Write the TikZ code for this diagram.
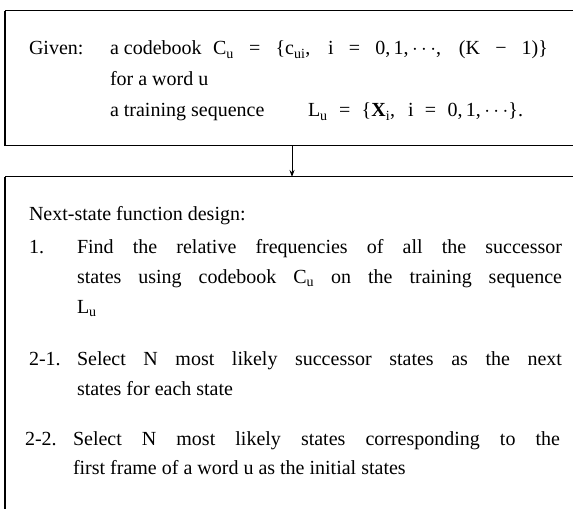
\documentclass[tikz,border=0pt]{standalone}
\usepackage{fontspec}
\setmainfont{Liberation Serif}
\usetikzlibrary{arrows.meta}
\begin{document}
\begin{tikzpicture}[x=1bp,y=-1bp,
  txt/.style={anchor=base west,inner sep=0pt,outer sep=0pt,font=\fontsize{20bp}{24bp}\selectfont},
  frame/.style={line width=1bp},
  leftedge/.style={line width=1.6bp}]
\useasboundingbox (0,0) rectangle (573,509);
% box 1 (open on the right)
\coordinate (b1tl) at (5,11);
\coordinate (b1tr) at (573,11);
\coordinate (b1bl) at (5,146);
\coordinate (b1br) at (573,146);
\draw[frame] (b1tr) -- (b1tl);
\draw[frame] (b1bl) -- (b1br);
\draw[leftedge] (b1tl) -- (b1bl);
% box 2 (open on the right and bottom)
\coordinate (b2tl) at (5,177);
\coordinate (b2tr) at (573,177);
\coordinate (b2bl) at (5,509);
\draw[frame] (b2tr) -- (b2tl);
\draw[leftedge] (b2tl) -- (b2bl);
% connector
\coordinate (aS) at (292,146);
\coordinate (aE) at (292,177);
\draw[line width=0.9bp,-{Stealth[length=7bp,width=5bp]}] (aS) -- (aE);
% texts of box 1
\node[txt] (given) at (29,55) {Given:};
\node[txt] (cb) at (110,55) {a codebook};
\node[txt] (cu) at (213,55) {\makebox[335bp][s]{C\textsubscript{u} = \{c\textsubscript{ui}, i = 0,\,1,\,$\cdots$, (K − 1)\}}};
\node[txt] (word) at (110,86) {for a word u};
\node[txt] (ts) at (110,117) {a training sequence};
\node[txt] (lu) at (308,117) {\makebox[215bp][s]{L\textsubscript{u} = \{\textbf{X}\textsubscript{i}, i = 0,\,1,\,$\cdots$\}.}};
% texts of box 2
\node[txt] (ns) at (29,221) {Next-state function design:};
\node[txt] (n1) at (29,253) {1.};
\node[txt] (s1a) at (77,253) {\makebox[485bp][s]{Find the relative frequencies of all the successor}};
\node[txt] (s1b) at (77,283) {\makebox[485bp][s]{states using codebook C\textsubscript{u} on the training sequence}};
\node[txt] (s1c) at (77,313) {L\textsubscript{u}};
\node[txt] (n21) at (29,365) {2-1.};
\node[txt] (s2a) at (77,365) {\makebox[485bp][s]{Select N most likely successor states as the next}};
\node[txt] (s2b) at (77,395) {states for each state};
\node[txt] (n22) at (25,445) {2-2.};
\node[txt] (s3a) at (73,445) {\makebox[487bp][s]{Select N most likely states corresponding to the}};
\node[txt] (s3b) at (73,474) {first frame of a word u as the initial states};
\end{tikzpicture}
\end{document}
